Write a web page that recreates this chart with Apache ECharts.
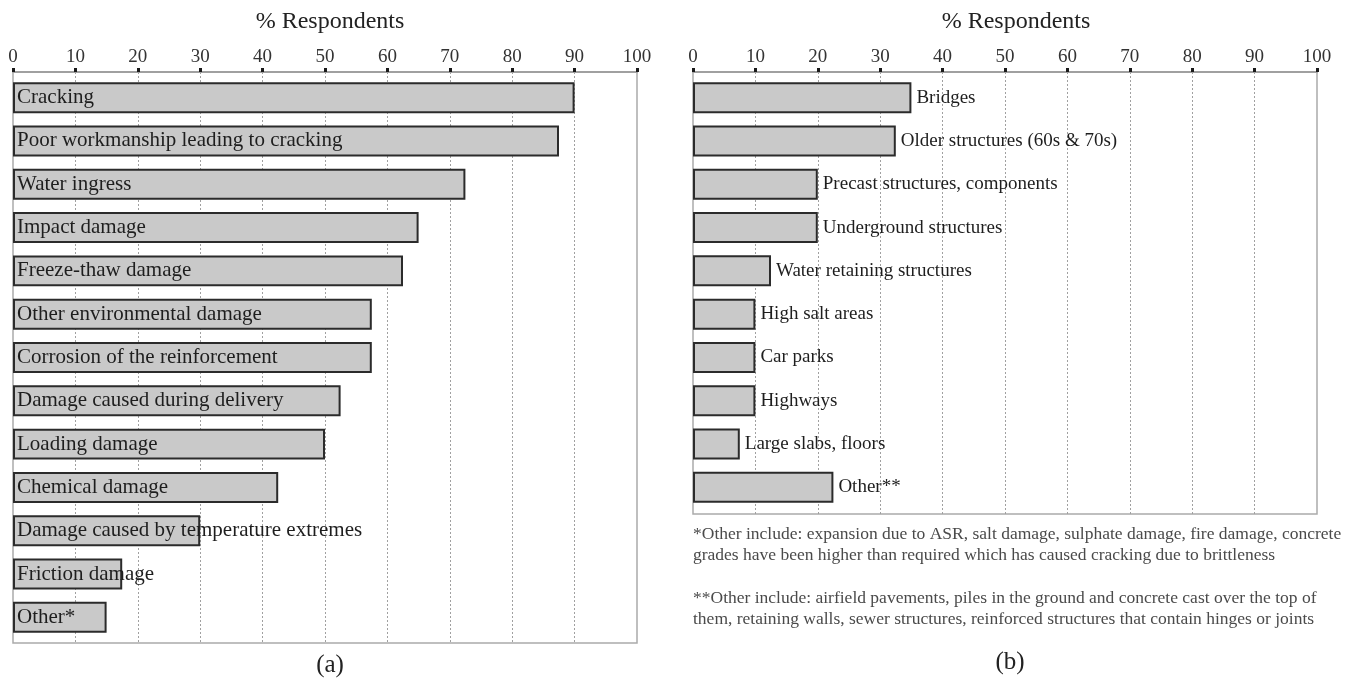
<!DOCTYPE html>
<html>
<head>
<meta charset="utf-8">
<script src="https://cdn.jsdelivr.net/npm/echarts@6/dist/echarts.min.js"></script>
<style>
  html, body { margin: 0; padding: 0; background: #fff; }
  #chart { width: 1352px; height: 687px; }
</style>
</head>
<body>
<div id="chart"></div>
<script>
// (a) reported causes of damage
const causes = [
  'Cracking',
  'Poor workmanship leading to cracking',
  'Water ingress',
  'Impact damage',
  'Freeze-thaw damage',
  'Other environmental damage',
  'Corrosion of the reinforcement',
  'Damage caused during delivery',
  'Loading damage',
  'Chemical damage',
  'Damage caused by temperature extremes',
  'Friction damage',
  'Other*'
];
const causeValues = [90, 87.5, 72.5, 65, 62.5, 57.5, 57.5, 52.5, 50, 42.5, 30, 17.5, 15];

// (b) structure types affected
const structures = [
  'Bridges',
  'Older structures (60s & 70s)',
  'Precast structures, components',
  'Underground structures',
  'Water retaining structures',
  'High salt areas',
  'Car parks',
  'Highways',
  'Large slabs, floors',
  'Other**'
];
const structureValues = [35, 32.5, 20, 20, 12.5, 10, 10, 10, 7.5, 22.5];

const axisTitle = '% Respondents';
const axisMin = 0;
const axisMax = 100;
const axisStep = 10;
const panelLabels = ['(a)', '(b)'];
const footnotes = [
  '*Other include: expansion due to ASR, salt damage, sulphate damage, fire damage, concrete\ngrades have been higher than required which has caused cracking due to brittleness',
  '**Other include: airfield pavements, piles in the ground and concrete cast over the top of\nthem, retaining walls, sewer structures, reinforced structures that contain hinges or joints'
];

const SERIF = '"Liberation Serif", "DejaVu Serif", serif';
const W = 1352, H = 687;

// Frame grid: carries the top axis, the dotted gridlines and the box.
function frameAxis(gridIndex, titleShift) {
  return {
    type: 'value',
    gridIndex: gridIndex,
    position: 'top',
    min: axisMin,
    max: axisMax,
    interval: axisStep,
    name: axisTitle,
    nameLocation: 'middle',
    nameGap: 38,
    nameTextStyle: { fontFamily: SERIF, fontSize: 24, color: '#222', padding: [0, 0, 0, titleShift] },
    axisLine: { show: true, onZero: false, lineStyle: { color: '#a0a0a0', width: 2 } },
    axisTick: { show: true, length: 4, lineStyle: { color: '#1a1a1a', width: 3 } },
    axisLabel: { fontFamily: SERIF, fontSize: 19, color: '#333', margin: 5 },
    splitLine: {
      show: true,
      showMinLine: false,
      showMaxLine: false,
      lineStyle: { color: '#a0a0a0', type: [2, 2], width: 1 }
    }
  };
}

// Bar grid: same scale, hidden axis, slightly inset from the frame.
function barAxis(gridIndex) {
  return { type: 'value', gridIndex: gridIndex, min: axisMin, max: axisMax, show: false };
}

function hiddenY(gridIndex) {
  return { type: 'category', gridIndex: gridIndex, data: [''], show: false };
}

function categoryAxis(gridIndex, data) {
  return {
    type: 'category',
    gridIndex: gridIndex,
    data: data,
    inverse: true,
    show: false
  };
}

const barStyle = { color: '#c9c9c9', borderColor: '#2b2b2b', borderWidth: 2 };

const chart = echarts.init(document.getElementById('chart'), null, { renderer: 'canvas' });

chart.setOption({
  backgroundColor: '#ffffff',
  animation: false,
  grid: [
    // left panel: frame, bars
    { left: 13, right: W - 637, top: 72, bottom: H - 643, show: true,
      borderColor: '#ababab', borderWidth: 1.5, backgroundColor: 'transparent' },
    { left: 13, right: W - 637, top: 76, bottom: H - 639 },
    // right panel: frame, bars
    { left: 693, right: W - 1317, top: 72, bottom: H - 514, show: true,
      borderColor: '#ababab', borderWidth: 1.5, backgroundColor: 'transparent' },
    { left: 693, right: W - 1317, top: 76, bottom: H - 509 }
  ],
  xAxis: [frameAxis(0, 10), barAxis(1), frameAxis(2, 22), barAxis(3)],
  yAxis: [hiddenY(0), categoryAxis(1, causes), hiddenY(2), categoryAxis(3, structures)],
  series: [
    {
      type: 'bar',
      xAxisIndex: 1,
      yAxisIndex: 1,
      data: causeValues,
      barCategoryGap: '28.5%',
      itemStyle: barStyle,
      label: {
        show: true,
        position: 'insideLeft',
        distance: 4,
        formatter: p => p.name,
        fontFamily: SERIF,
        fontSize: 21,
        color: '#1e1e1e'
      }
    },
    {
      type: 'bar',
      xAxisIndex: 3,
      yAxisIndex: 3,
      data: structureValues,
      barCategoryGap: '28.5%',
      itemStyle: barStyle,
      label: {
        show: true,
        position: 'right',
        distance: 5,
        formatter: p => p.name,
        fontFamily: SERIF,
        fontSize: 19,
        color: '#1e1e1e'
      }
    }
  ],
  graphic: [
    { type: 'text', left: 693, top: 524,
      style: { text: footnotes[0], fontFamily: SERIF, fontSize: 17.5, lineHeight: 21, fill: '#4a4a4a' } },
    { type: 'text', left: 693, top: 588,
      style: { text: footnotes[1], fontFamily: SERIF, fontSize: 17.5, lineHeight: 21, fill: '#4a4a4a' } },
    { type: 'text', x: 330, y: 665,
      style: { text: panelLabels[0], fontFamily: SERIF, fontSize: 25, fill: '#222', align: 'center', verticalAlign: 'middle' } },
    { type: 'text', x: 1010, y: 662,
      style: { text: panelLabels[1], fontFamily: SERIF, fontSize: 25, fill: '#222', align: 'center', verticalAlign: 'middle' } }
  ]
});
</script>
</body>
</html>
